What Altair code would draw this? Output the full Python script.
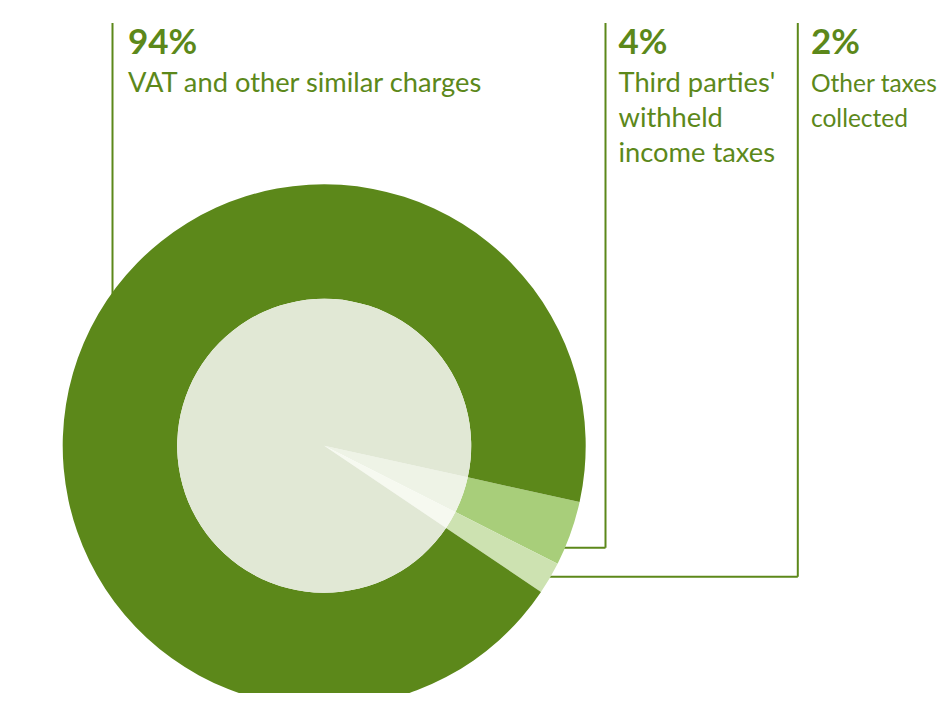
import math
import altair as alt
import pandas as pd

# ---- data ----
categories = ["Third parties' withheld income taxes", "Other taxes collected", "VAT and other similar charges"]
values = [4, 2, 94]
order = [0, 1, 2]
label_lines = [["Third parties'", "withheld", "income taxes"], ["Other taxes", "collected"], ["VAT and other similar charges"]]

outer_colors = ["#a8ce7a", "#cde2b1", "#5c881a"]
inner_colors = ["#eef3e6", "#f6f9f0", "#e1e8d5"]
GREEN = "#5c881a"

df = pd.DataFrame({"category": categories, "value": values, "order": order})

W, H = 932, 685
cx, cy = 316.2, 437.8
R_OUT, R_IN = 261.5, 147
start = math.radians(102.4)

theta = alt.Theta("value:Q", stack=True, scale=alt.Scale(range=[start, start + 2 * math.pi]))

outer = alt.Chart(df).mark_arc(outerRadius=R_OUT, innerRadius=R_IN, strokeWidth=0).encode(
    theta=theta,
    color=alt.Color("category:N", scale=alt.Scale(domain=categories, range=outer_colors), legend=None),
    order=alt.Order("order:Q"),
    x=alt.value(cx), y=alt.value(cy),
)
inner = alt.Chart(df).mark_arc(outerRadius=R_IN, innerRadius=0, strokeWidth=0).encode(
    theta=theta,
    color=alt.Color("category:N", scale=alt.Scale(domain=categories, range=inner_colors), legend=None),
    order=alt.Order("order:Q"),
    x=alt.value(cx), y=alt.value(cy),
)

base = alt.Chart(pd.DataFrame({"d": [0]}))

def vline(x, y1, y2):
    return base.mark_rule(color=GREEN, strokeWidth=2).encode(x=alt.value(x), y=alt.value(y1), y2=alt.value(y2))

def hline(x1, x2, y):
    return base.mark_rule(color=GREEN, strokeWidth=2).encode(x=alt.value(x1), x2=alt.value(x2), y=alt.value(y))

rules = [
    vline(104.5, 15, 300),
    vline(597.5, 15, 539.7), hline(545, 597.5, 539.7),
    vline(789.8, 15, 568.7), hline(530, 789.8, 568.7),
]

FONT = "Lato"
text_pos = {2: 120, 0: 610.5, 1: 803.0}
label_size = {2: 27.3, 0: 27.3, 1: 24.5}
texts = []
for i in [2, 0, 1]:
    x = text_pos[i]
    texts.append(base.mark_text(align="left", baseline="alphabetic", font=FONT, fontSize=35,
                                fontWeight="bold", color=GREEN).encode(
        x=alt.value(x), y=alt.value(46), text=alt.value(f"{values[i]}%")))
    texts.append(base.mark_text(align="left", baseline="alphabetic", font=FONT, fontSize=label_size[i],
                                lineHeight=35, color=GREEN).encode(
        x=alt.value(x), y=alt.value(83.7), text=alt.value(label_lines[i])))

chart = alt.layer(*rules, outer, inner, *texts).resolve_scale(color="independent").properties(
    width=W, height=H, padding=0, autosize=alt.AutoSizeParams(type="none")
).configure_view(strokeWidth=0)

chart.save("out.html", embed_options={"renderer": "svg", "actions": False})
